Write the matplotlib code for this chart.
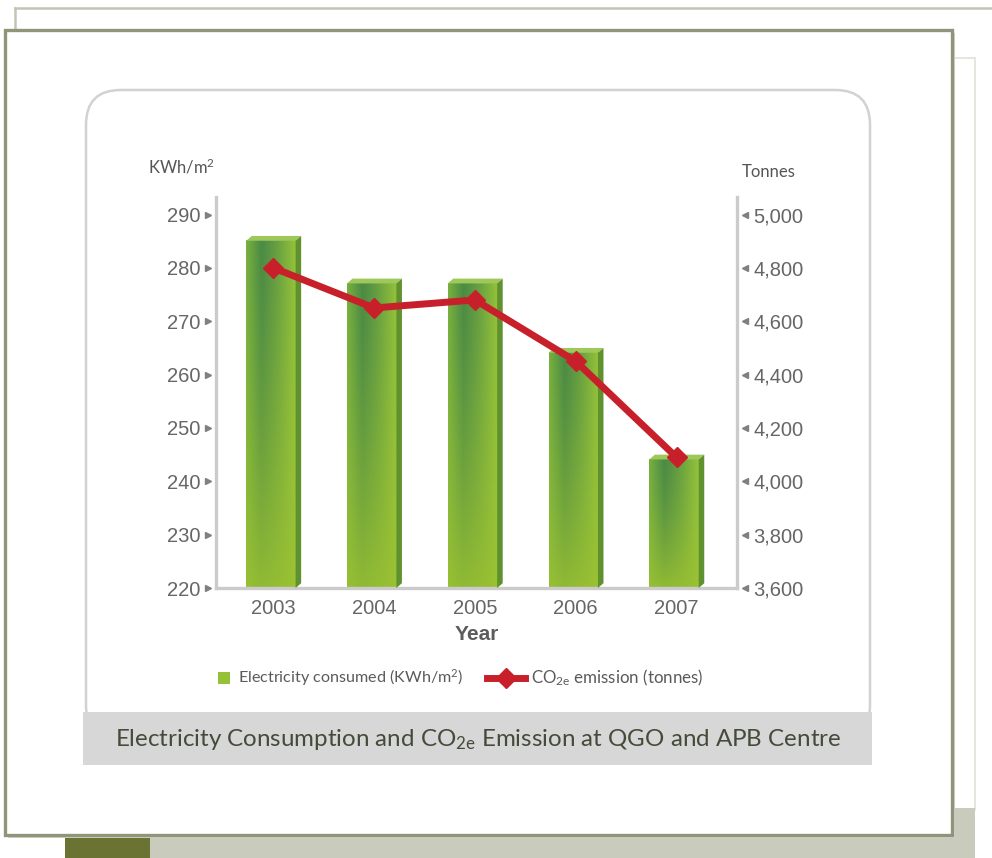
import numpy as np
import matplotlib.pyplot as plt
from matplotlib.patches import Rectangle, FancyBboxPatch, Polygon
from matplotlib.lines import Line2D
from matplotlib.colors import to_rgb
import matplotlib.transforms as mtransforms

plt.rcParams['mathtext.fontset'] = 'custom'
plt.rcParams['mathtext.rm'] = 'Lato'
plt.rcParams['mathtext.it'] = 'Lato:italic'
plt.rcParams['mathtext.bf'] = 'Lato:bold'

years = ['2003', '2004', '2005', '2006', '2007']
electricity = [286, 278, 278, 265, 245]          # KWh/m2
co2 = [4800, 4650, 4680, 4450, 4090]             # tonnes

left_ticks = [220, 230, 240, 250, 260, 270, 280, 290]
right_ticks = [3600, 3800, 4000, 4200, 4400, 4600, 4800, 5000]

W, H = 992, 858
fig = plt.figure(figsize=(W / 100, H / 100), dpi=100)


def fx(x):
    return x / W


def fy(y):
    return 1 - y / H


def box(x0, y0, x1, y1, z=-10, **kw):
    r = Rectangle((fx(x0), fy(y1)), fx(x1) - fx(x0), fy(y0) - fy(y1),
                  transform=fig.transFigure, zorder=z, **kw)
    fig.add_artist(r)
    return r


# page frames behind the card
fig.add_artist(Line2D([fx(15), fx(992)], [fy(8), fy(8)], color='#c2c5b4', lw=1.8, zorder=-12))
fig.add_artist(Line2D([fx(15), fx(15)], [fy(8), fy(32)], color='#c2c5b4', lw=1.8, zorder=-12))
box(952, 58, 975, 810, z=-12, facecolor='white', edgecolor='#e0e2d8', lw=1.2)
box(150, 808, 975, 858, z=-12, facecolor='#c9cbbc', edgecolor='none')
box(65, 835, 150, 858, z=-12, facecolor='#6b7332', edgecolor='none')
box(8, 33, 955, 838, z=-11, facecolor='#d4d6cc', edgecolor='none')
box(5, 30, 952, 835, z=-10, facecolor='white', edgecolor='#8f9579', lw=2.4)

# rounded inner panel and caption strip
panel = FancyBboxPatch((fx(86), fy(740)), fx(870) - fx(86), fy(90) - fy(740),
                       boxstyle='round,pad=0,rounding_size=0.035',
                       transform=fig.transFigure, facecolor='white',
                       edgecolor='#d2d2d2', lw=1.8, mutation_aspect=W / H, zorder=-9)
fig.add_artist(panel)
box(83, 712, 872, 765, z=-8, facecolor='#d6d7d6', edgecolor='none')
fig.text(fx(478), fy(739), 'Electricity Consumption and CO$_{\\mathrm{2e}}$ Emission at QGO and APB Centre',
         ha='center', va='center', fontsize=17.4, family='Lato', color='#454b3a')

# chart axes
ax = fig.add_axes([fx(216), fy(588), fx(737) - fx(216), fy(197) - fy(588)])
ax2 = ax.twinx()
ax.patch.set_visible(False)
ax2.patch.set_visible(False)
x = np.arange(len(years))

# 3d-look gradient bars
left_c = np.array(to_rgb('#78b03e'))
mid_c = np.array(to_rgb('#4c8b45'))
right_c = np.array(to_rgb('#95c23a'))
low_c = np.array(to_rgb('#9cc232'))
hpos = np.linspace(0, 1, 60)
hcol = np.where(hpos[:, None] < 0.3,
                left_c + (mid_c - left_c) * (hpos[:, None] / 0.3),
                mid_c + (right_c - mid_c) * ((hpos[:, None] - 0.3) / 0.7) ** 1.2)
fw, sw, bev = 0.49, 0.055, 0.9
for i, val in enumerate(electricity):
    x0 = i - 0.27
    x1 = x0 + fw
    ftop = val - bev
    vpos = np.linspace(0, 1, 80)[:, None, None]   # 0 top, 1 bottom
    t = np.clip(vpos ** 1.4 * 0.85, 0, 1)
    img = hcol[None, :, :] * (1 - t) + low_c * t
    ax.imshow(img, extent=(x0, x1, 220, ftop), aspect='auto',
              interpolation='bilinear', zorder=2, origin='upper')
    ax.add_patch(Polygon([(x0, ftop), (x1, ftop), (x1 + sw, val), (x0 + sw, val)],
                         closed=True, facecolor='#9fc85a', edgecolor='none', zorder=3))
    ax.add_patch(Polygon([(x1, 220), (x1 + sw, 220 + bev), (x1 + sw, val), (x1, ftop)],
                         closed=True, facecolor='#5f922f', edgecolor='none', zorder=3))

ax.set_xlim(-0.57, 4.6)
ax.set_ylim(220, 293.3)
ax2.set_ylim(3600, 3600 + 73.3 * 20)

ax2.plot(x, co2, color='#c8202b', lw=5, marker='D', ms=10.5,
         mfc='#c8202b', mec='#c8202b', zorder=5)

# axes styling
for a in (ax, ax2):
    for s in a.spines.values():
        s.set_visible(False)
ax.spines['left'].set_visible(True)
ax.spines['bottom'].set_visible(True)
ax2.spines['right'].set_visible(True)
for s in (ax.spines['left'], ax.spines['bottom'], ax2.spines['right']):
    s.set_color('#cbcbcb')
    s.set_linewidth(2.4)

tick_font = dict(family='Liberation Sans', fontsize=14.5, color='#666666')
ax.set_yticks(left_ticks)
ax.set_yticklabels([str(v) for v in left_ticks], **tick_font)
ax2.set_yticks(right_ticks)
ax2.set_yticklabels([f'{v:,}' for v in right_ticks], **tick_font)
ax.set_xticks(x)
ax.set_xticklabels(years, **tick_font)
ax.tick_params(axis='y', length=0, pad=11)
ax2.tick_params(axis='y', length=0, pad=12)
ax.tick_params(axis='x', length=0, pad=8)
ax.set_xlabel('Year', family='Liberation Sans', fontsize=15, fontweight='bold',
              color='#5c5c5c', labelpad=5)

# small arrow tick marks
lt = mtransforms.blended_transform_factory(ax.transAxes, ax.transData)
ax.plot([-0.015] * len(left_ticks), left_ticks, ls='none', marker='>', ms=4,
        color='#808080', transform=lt, clip_on=False)
rt = mtransforms.blended_transform_factory(ax2.transAxes, ax2.transData)
ax2.plot([1.015] * len(right_ticks), right_ticks, ls='none', marker='<', ms=4,
         color='#808080', transform=rt, clip_on=False)

fig.text(fx(148), fy(167), 'KWh/m$^2$', ha='left', va='center', fontsize=12,
         family='Lato', color='#555555')
fig.text(fx(742), fy(172), 'Tonnes', ha='left', va='center', fontsize=12,
         family='Lato', color='#555555')

# legend
box(218, 672, 230, 684, z=1, facecolor='#94c135', edgecolor='none')
fig.text(fx(238), fy(678), 'Electricity consumed (KWh/m$^2$)', ha='left', va='center',
         fontsize=11.6, family='Lato', color='#5a5a5a')
fig.add_artist(Line2D([fx(487), fx(525)], [fy(678), fy(678)], color='#c8202b', lw=5,
                      transform=fig.transFigure))
fig.add_artist(Line2D([fx(506)], [fy(678)], marker='D', ms=10.5, color='#c8202b',
                      transform=fig.transFigure))
fig.text(fx(531), fy(678), 'CO$_{\\mathrm{2e}}$ emission (tonnes)', ha='left', va='center',
         fontsize=12.2, family='Lato', color='#5a5a5a')

fig.savefig('out.png', dpi=100)
